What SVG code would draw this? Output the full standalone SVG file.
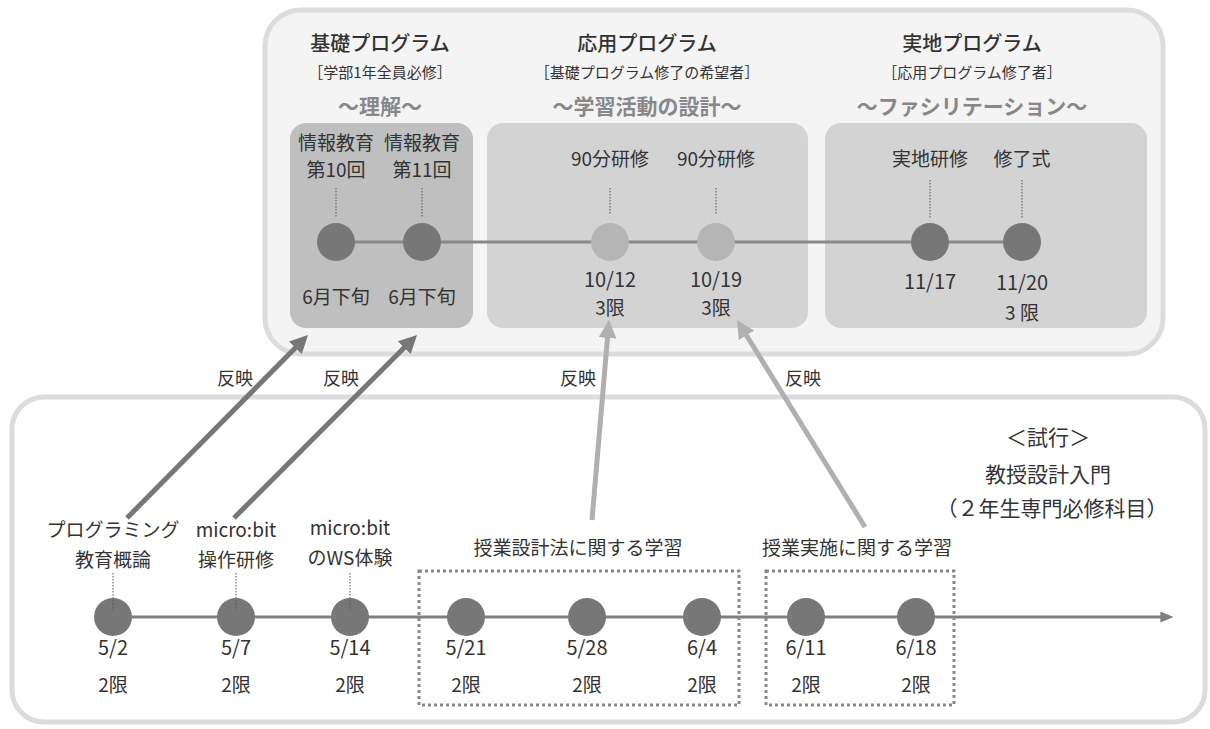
<svg xmlns="http://www.w3.org/2000/svg" width="1210" height="729" viewBox="0 0 1210 729">
<style>
text{font-family:"Noto Sans CJK JP","Noto Sans",sans-serif;fill:#333;text-anchor:middle}
.t{font-size:20px;font-weight:500}
.s{font-size:15px}
.g{font-size:21px;fill:#888;font-weight:700}
.m{font-size:18px}
.b{font-size:19px}
.d{font-size:20px}
.h{font-size:21px}
.dk{fill:#777}
.lt{fill:#b5b5b5}
.dot{stroke:#555;stroke-width:1;stroke-dasharray:1.5 1.5}
.box{fill:none;stroke:#888;stroke-width:3;stroke-dasharray:3 3}
</style>
<defs>
<marker id="ad" viewBox="0 0 10 10" refX="4" refY="5" markerWidth="18" markerHeight="18" markerUnits="userSpaceOnUse" orient="auto"><path d="M0,0 L10,5 L0,10 z" fill="#777"/></marker>
<marker id="al" viewBox="0 0 10 10" refX="4" refY="5" markerWidth="18" markerHeight="18" markerUnits="userSpaceOnUse" orient="auto"><path d="M0,0 L10,5 L0,10 z" fill="#b0b0b0"/></marker>
<marker id="at" viewBox="0 0 10 10" refX="2" refY="5" markerWidth="13" markerHeight="11" markerUnits="userSpaceOnUse" orient="auto" preserveAspectRatio="none"><path d="M0,0 L10,5 L0,10 z" fill="#808080"/></marker>
</defs>

<g id="upper-frame">
<rect x="265" y="10" width="898" height="344" rx="36" fill="#f4f4f4" stroke="#dcdcdc" stroke-width="5"/>
</g>
<g id="lower-frame">
<rect x="12" y="397" width="1193" height="325" rx="32" fill="#fff" stroke="#dcdcdc" stroke-width="5"/>
</g>

<g id="panel-kiso">
<rect x="290" y="123" width="183" height="205" rx="16" fill="#bfbfbf"/>
<text class="t" x="380" y="51">基礎プログラム</text>
<text class="s" x="380" y="78">［学部1年全員必修］</text>
<text class="g" x="380" y="114">〜理解〜</text>
</g>
<g id="panel-oyo">
<rect x="487" y="123" width="321" height="205" rx="16" fill="#d3d3d3"/>
<text class="t" x="647" y="51">応用プログラム</text>
<text class="s" x="647" y="78">［基礎プログラム修了の希望者］</text>
<text class="g" x="647" y="114">〜学習活動の設計〜</text>
</g>
<g id="panel-jichi">
<rect x="825" y="123" width="322" height="205" rx="16" fill="#d3d3d3"/>
<text class="t" x="972" y="51">実地プログラム</text>
<text class="s" x="972" y="78">［応用プログラム修了者］</text>
<text class="g" x="972" y="114">〜ファシリテーション〜</text>
</g>

<g id="connectors">
<line x1="336" y1="242" x2="1022" y2="242" stroke="#8a8a8a" stroke-width="3"/>
<line x1="113" y1="617" x2="1163" y2="617" stroke="#808080" stroke-width="3" marker-end="url(#at)"/>
<line x1="127" y1="518" x2="300.4" y2="342.7" stroke="#777" stroke-width="5" marker-end="url(#ad)"/>
<line x1="234" y1="518" x2="409.4" y2="342.6" stroke="#777" stroke-width="5" marker-end="url(#ad)"/>
<line x1="592" y1="520" x2="608.1" y2="330.8" stroke="#b0b0b0" stroke-width="5" marker-end="url(#al)"/>
<line x1="865" y1="527" x2="742.7" y2="329.2" stroke="#b0b0b0" stroke-width="5" marker-end="url(#al)"/>
<text class="m" x="235" y="385">反映</text>
<text class="m" x="341" y="385">反映</text>
<text class="m" x="578" y="385">反映</text>
<text class="m" x="803" y="385">反映</text>
</g>

<g id="n-joho10">
<circle class="dk" cx="336" cy="242" r="19"/>
<line class="dot" x1="336" y1="188" x2="336" y2="218"/>
<text class="b" x="336" y="150">情報教育</text>
<text class="b" x="336" y="177">第10回</text>
<text class="b" x="336" y="304">6月下旬</text>
</g>
<g id="n-joho11">
<circle class="dk" cx="422" cy="242" r="19"/>
<line class="dot" x1="422" y1="188" x2="422" y2="218"/>
<text class="b" x="422" y="150">情報教育</text>
<text class="b" x="422" y="177">第11回</text>
<text class="b" x="422" y="304">6月下旬</text>
</g>
<g id="n-90a">
<circle class="lt" cx="610" cy="242" r="19"/>
<line class="dot" x1="610" y1="188" x2="610" y2="214"/>
<text class="b" x="610" y="166">90分研修</text>
<text class="d" x="610" y="287">10/12</text>
<text class="b" x="610" y="315">3限</text>
</g>
<g id="n-90b">
<circle class="lt" cx="716" cy="242" r="19"/>
<line class="dot" x1="716" y1="188" x2="716" y2="214"/>
<text class="b" x="716" y="166">90分研修</text>
<text class="d" x="716" y="287">10/19</text>
<text class="b" x="716" y="315">3限</text>
</g>
<g id="n-jichi">
<circle class="dk" cx="930" cy="242" r="19"/>
<line class="dot" x1="930" y1="180" x2="930" y2="218"/>
<text class="b" x="930" y="166">実地研修</text>
<text class="d" x="930" y="289">11/17</text>
</g>
<g id="n-shuryo">
<circle class="dk" cx="1022" cy="242" r="19"/>
<line class="dot" x1="1022" y1="180" x2="1022" y2="218"/>
<text class="b" x="1022" y="166">修了式</text>
<text class="d" x="1022" y="290">11/20</text>
<text class="b" x="1022" y="320">3 限</text>
</g>

<g id="trial-title">
<text class="h" x="1048" y="445">＜試行＞</text>
<text class="h" x="1048" y="482">教授設計入門</text>
<text class="h" x="1052" y="516">（２年生専門必修科目）</text>
</g>

<g id="group-sekkei">
<rect class="box" x="419" y="571" width="320" height="134"/>
<text class="b" x="578" y="555">授業設計法に関する学習</text>
</g>
<g id="group-jisshi">
<rect class="box" x="766" y="571" width="188" height="134"/>
<text class="b" x="857" y="555">授業実施に関する学習</text>
</g>

<g id="n-0502">
<circle class="dk" cx="113" cy="617" r="19"/>
<line class="dot" x1="113" y1="573" x2="113" y2="610"/>
<text class="b" x="113" y="537">プログラミング</text>
<text class="b" x="113" y="567">教育概論</text>
<text class="d" x="113" y="655">5/2</text>
<text class="b" x="113" y="692">2限</text>
</g>
<g id="n-0507">
<circle class="dk" cx="236" cy="617" r="19"/>
<line class="dot" x1="236" y1="573" x2="236" y2="610"/>
<text class="b" x="236" y="537">micro:bit</text>
<text class="b" x="236" y="567">操作研修</text>
<text class="d" x="236" y="655">5/7</text>
<text class="b" x="236" y="692">2限</text>
</g>
<g id="n-0514">
<circle class="dk" cx="350" cy="617" r="19"/>
<line class="dot" x1="350" y1="573" x2="350" y2="610"/>
<text class="b" x="350" y="535">micro:bit</text>
<text class="b" x="350" y="565">のWS体験</text>
<text class="d" x="350" y="655">5/14</text>
<text class="b" x="350" y="692">2限</text>
</g>
<g id="n-0521">
<circle class="dk" cx="466" cy="617" r="19"/>
<text class="d" x="466" y="655">5/21</text>
<text class="b" x="466" y="692">2限</text>
</g>
<g id="n-0528">
<circle class="dk" cx="587" cy="617" r="19"/>
<text class="d" x="587" y="655">5/28</text>
<text class="b" x="587" y="692">2限</text>
</g>
<g id="n-0604">
<circle class="dk" cx="702" cy="617" r="19"/>
<text class="d" x="702" y="655">6/4</text>
<text class="b" x="702" y="692">2限</text>
</g>
<g id="n-0611">
<circle class="dk" cx="806" cy="617" r="19"/>
<text class="d" x="806" y="655">6/11</text>
<text class="b" x="806" y="692">2限</text>
</g>
<g id="n-0618">
<circle class="dk" cx="916" cy="617" r="19"/>
<text class="d" x="916" y="655">6/18</text>
<text class="b" x="916" y="692">2限</text>
</g>
</svg>
